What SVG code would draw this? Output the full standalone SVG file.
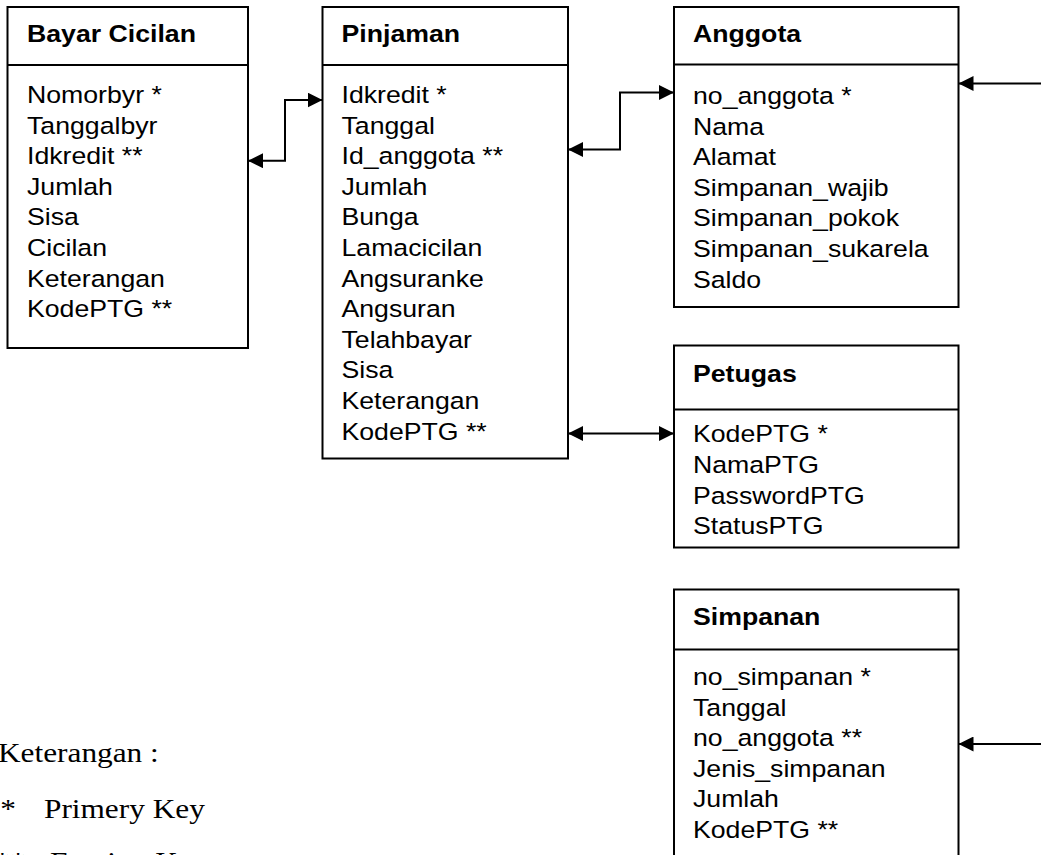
<svg xmlns="http://www.w3.org/2000/svg" width="1041" height="855" viewBox="0 0 1041 855">
  <style>
    .box { fill: #fff; stroke: #000; stroke-width: 2; }
    .div { stroke: #000; stroke-width: 2; }
    .t { font-family: "Liberation Sans", Arial, sans-serif; font-size: 23.5px; fill: #000; }
    .h { font-weight: bold; }
    .lg { font-family: "Liberation Serif", "Times New Roman", serif; font-size: 27px; fill: #000; }
    .cn { fill: none; stroke: #000; stroke-width: 2; }
  </style>
  <defs>
    <marker id="arr" viewBox="0 0 15 15" refX="15" refY="7.5" markerWidth="15" markerHeight="15" markerUnits="userSpaceOnUse" orient="auto-start-reverse">
      <path d="M0,0 L15,7.5 L0,15 z" fill="#000"/>
    </marker>
  </defs>
  <rect width="1041" height="855" fill="#fff"/>

  <!-- Bayar Cicilan -->
  <g id="bayar-cicilan">
    <rect class="box" x="7.5" y="7" width="240.5" height="341"/>
    <line class="div" x1="7.5" y1="65" x2="248" y2="65"/>
    <g transform="translate(27 0) scale(1.135 1)">
      <text class="t h" x="0" y="42">Bayar Cicilan</text>
      <text class="t" x="0" y="103">Nomorbyr *</text>
      <text class="t" x="0" y="133.6">Tanggalbyr</text>
      <text class="t" x="0" y="164.2">Idkredit **</text>
      <text class="t" x="0" y="194.8">Jumlah</text>
      <text class="t" x="0" y="225.4">Sisa</text>
      <text class="t" x="0" y="256">Cicilan</text>
      <text class="t" x="0" y="286.6">Keterangan</text>
      <text class="t" x="0" y="317.2">KodePTG **</text>
    </g>
  </g>

  <!-- Pinjaman -->
  <g id="pinjaman">
    <rect class="box" x="322.5" y="7" width="245.5" height="451.5"/>
    <line class="div" x1="322.5" y1="65" x2="568" y2="65"/>
    <g transform="translate(341.5 0) scale(1.135 1)">
      <text class="t h" x="0" y="42">Pinjaman</text>
      <text class="t" x="0" y="103">Idkredit *</text>
      <text class="t" x="0" y="133.6">Tanggal</text>
      <text class="t" x="0" y="164.2">Id_anggota **</text>
      <text class="t" x="0" y="194.8">Jumlah</text>
      <text class="t" x="0" y="225.4">Bunga</text>
      <text class="t" x="0" y="256">Lamacicilan</text>
      <text class="t" x="0" y="286.6">Angsuranke</text>
      <text class="t" x="0" y="317.2">Angsuran</text>
      <text class="t" x="0" y="347.8">Telahbayar</text>
      <text class="t" x="0" y="378.4">Sisa</text>
      <text class="t" x="0" y="409">Keterangan</text>
      <text class="t" x="0" y="439.6">KodePTG **</text>
    </g>
  </g>

  <!-- Anggota -->
  <g id="anggota">
    <rect class="box" x="674" y="7" width="284.5" height="300"/>
    <line class="div" x1="674" y1="64.5" x2="958.5" y2="64.5"/>
    <g transform="translate(693 0) scale(1.135 1)">
      <text class="t h" x="0" y="42">Anggota</text>
      <text class="t" x="0" y="104">no_anggota *</text>
      <text class="t" x="0" y="134.6">Nama</text>
      <text class="t" x="0" y="165.2">Alamat</text>
      <text class="t" x="0" y="195.8">Simpanan_wajib</text>
      <text class="t" x="0" y="226.4">Simpanan_pokok</text>
      <text class="t" x="0" y="257">Simpanan_sukarela</text>
      <text class="t" x="0" y="287.6">Saldo</text>
    </g>
  </g>

  <!-- Petugas -->
  <g id="petugas">
    <rect class="box" x="674" y="345.5" width="284.5" height="202"/>
    <line class="div" x1="674" y1="409.5" x2="958.5" y2="409.5"/>
    <g transform="translate(693 0) scale(1.135 1)">
      <text class="t h" x="0" y="382">Petugas</text>
      <text class="t" x="0" y="442">KodePTG *</text>
      <text class="t" x="0" y="472.8">NamaPTG</text>
      <text class="t" x="0" y="503.6">PasswordPTG</text>
      <text class="t" x="0" y="534.4">StatusPTG</text>
    </g>
  </g>

  <!-- Simpanan (runs past the lower edge) -->
  <g id="simpanan">
    <rect class="box" x="674" y="589.5" width="284.5" height="300"/>
    <line class="div" x1="674" y1="649.5" x2="958.5" y2="649.5"/>
    <g transform="translate(693 0) scale(1.135 1)">
      <text class="t h" x="0" y="625">Simpanan</text>
      <text class="t" x="0" y="685">no_simpanan *</text>
      <text class="t" x="0" y="715.6">Tanggal</text>
      <text class="t" x="0" y="746.2">no_anggota **</text>
      <text class="t" x="0" y="776.8">Jenis_simpanan</text>
      <text class="t" x="0" y="807.4">Jumlah</text>
      <text class="t" x="0" y="838">KodePTG **</text>
    </g>
  </g>

  <!-- Relationships -->
  <g id="connectors">
    <path class="cn" d="M248,160.7 H285 V100 H322.5" marker-start="url(#arr)" marker-end="url(#arr)"/>
    <path class="cn" d="M568,149.5 H620 V92.5 H674" marker-start="url(#arr)" marker-end="url(#arr)"/>
    <path class="cn" d="M1041,83.5 H958.5" marker-end="url(#arr)"/>
    <path class="cn" d="M568,433.5 H674" marker-start="url(#arr)" marker-end="url(#arr)"/>
    <path class="cn" d="M1041,744 H958.5" marker-end="url(#arr)"/>
  </g>

  <!-- Legend -->
  <g id="legend">
    <g transform="translate(-2 0) scale(1.16 1)">
      <text class="lg" x="0" y="762">Keterangan :</text>
      <text class="lg" x="2" y="818">*</text>
      <text class="lg" x="-3" y="871">**</text>
    </g>
    <g transform="translate(44 0) scale(1.16 1)">
      <text class="lg" x="0" y="818">Primery Key</text>
    </g>
    <g transform="translate(50 0) scale(1.16 1)">
      <text class="lg" x="0" y="871">Foreign Key</text>
    </g>
  </g>
</svg>
